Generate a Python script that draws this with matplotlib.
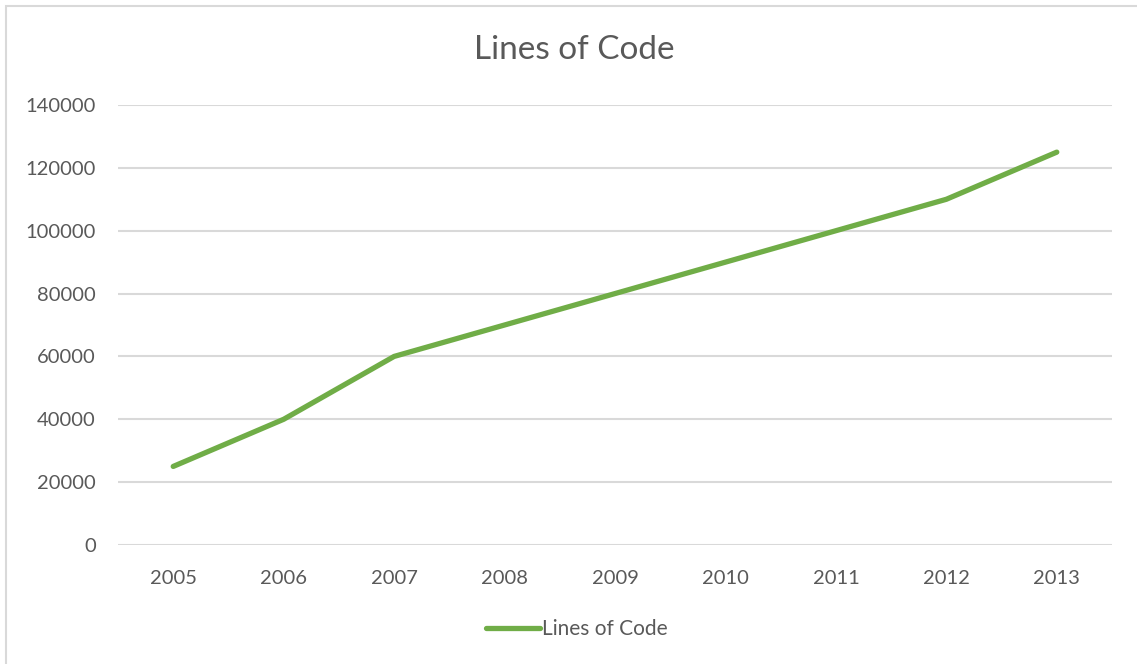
import matplotlib
matplotlib.use("Agg")
import matplotlib.pyplot as plt
from matplotlib.patches import Rectangle

years = ["2005", "2006", "2007", "2008", "2009", "2010", "2011", "2012", "2013"]
lines_of_code = [25000, 40000, 60000, 70000, 80000, 90000, 100000, 110000, 125000]
yticks = [0, 20000, 40000, 60000, 80000, 100000, 120000, 140000]

W, H = 1137, 664
fig = plt.figure(figsize=(W / 100, H / 100), dpi=100)
plt.rcParams['font.family'] = ['Lato', 'DejaVu Sans']
txt = "#595959"
grid = "#D9D9D9"
green = "#70AD47"

# outer chart border
fig.patches.append(Rectangle((6 / W, -0.05), 1.2, 1 - 6 / H + 0.05, transform=fig.transFigure,
                             fill=False, edgecolor=grid, linewidth=1.5))

ax = fig.add_axes([118 / W, 1 - 545 / H, (1112 - 118) / W, (545 - 105) / H])
x = list(range(len(years)))
ax.plot(x, lines_of_code, color=green, linewidth=3.8, solid_capstyle="round",
        solid_joinstyle="round", label="Lines of Code", zorder=3)
ax.set_xlim(-0.5, len(years) - 0.5)
ax.set_ylim(0, 140000)
ax.set_yticks(yticks)
ax.set_yticklabels([str(v) for v in yticks])
ax.set_xticks(x)
ax.set_xticklabels(years)
ax.grid(axis="y", color=grid, linewidth=1.5)
ax.set_axisbelow(True)
for s in ax.spines.values():
    s.set_visible(False)
ax.tick_params(axis="both", length=0, labelsize=14.5, colors=txt)
ax.tick_params(axis="y", pad=16)
ax.tick_params(axis="x", pad=18)

fig.text(574 / W, 1 - 50 / H, "Lines of Code", ha="center", va="center", fontsize=24, color=txt)

leg = fig.legend(loc="center", bbox_to_anchor=(577 / W, 1 - 629 / H), frameon=False,
                 fontsize=15, handlelength=2.6, handletextpad=0.1, labelcolor=txt)

fig.savefig("out.png", dpi=100)
